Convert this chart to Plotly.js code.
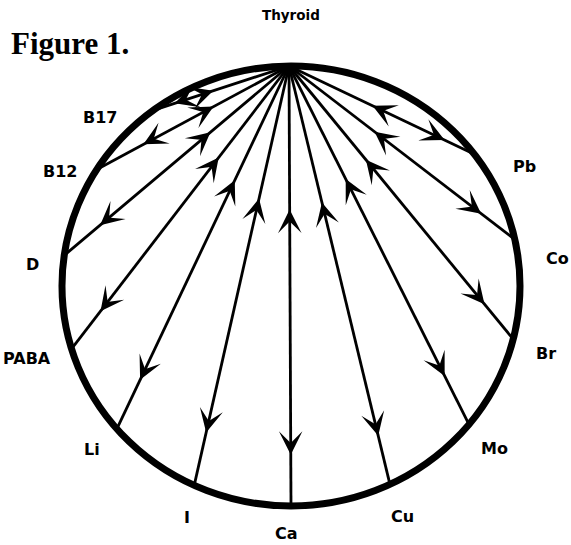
<!DOCTYPE html>
<html><head><meta charset="utf-8">
<script src="https://cdn.plot.ly/plotly-3.0.1.min.js"></script>
<style>html,body{margin:0;padding:0;background:#fff}#chart{width:571px;height:545px}</style>
</head><body><div id="chart"></div>
<script>
// ---- data ----
const sourceLabel = "Thyroid";
const sourceAngle = 90.5;                       // degrees on the circle
const elements = ["B17","B12","D","PABA","Li","I","Ca","Cu","Mo","Br","Co","Pb"];
const elementAngles = [127,148,172,196.6,220.5,245,270,295.6,321,346,12.2,36.8];
const upArrowAt   = [0.60,0.42,0.37,0.34,0.33,0.33,0.34,0.34,0.33,0.36,0.40,0.48]; // fraction from thyroid
const downArrowAt = [0.80,0.73,0.82,0.85,0.85,0.86,0.87,0.87,0.85,0.855,0.83,0.81];

// ---- label placement (layout) ----
const labelAngles = [137.5,152.8,175,196,220.6,246.7,269,295,320.4,344.5,6.2,27.9];
const labelRadius = [1.131,1.134,1.131,1.2,1.145,1.148,1.127,1.154,1.156,1.155,1.169,1.156];
const sourceLabelRadius = 1.232;

const rad = d => d*Math.PI/180;
const PX = 229, PY = 220; // pixels per unit (for arrow tail length)
const T = [Math.cos(rad(sourceAngle)), Math.sin(rad(sourceAngle))];

const lx = [], ly = [];
const annotations = [];
elements.forEach((name, i) => {
  const E = [Math.cos(rad(elementAngles[i])), Math.sin(rad(elementAngles[i]))];
  lx.push(T[0], E[0], null); ly.push(T[1], E[1], null);
  const L = Math.hypot((E[0]-T[0])*PX, (E[1]-T[1])*PY);
  const d = 12 / L;
  const at = t => [T[0] + (E[0]-T[0])*t, T[1] + (E[1]-T[1])*t];
  const uh = at(upArrowAt[i]-0.5*d), ut = at(upArrowAt[i]+0.5*d);
  const dh = at(downArrowAt[i]+0.5*d), dt = at(downArrowAt[i]-0.5*d);
  [[uh,ut],[dh,dt]].forEach(([h,tl]) => annotations.push({
    x: h[0], y: h[1], ax: tl[0], ay: tl[1], xref:'x', yref:'y', axref:'x', ayref:'y',
    text:'', showarrow:true, arrowhead:3, arrowsize:1.4, arrowwidth:2.8, arrowcolor:'#000', standoff:0
  }));
  annotations.push({
    x: labelRadius[i]*Math.cos(rad(labelAngles[i])), y: labelRadius[i]*Math.sin(rad(labelAngles[i])),
    xref:'x', yref:'y', text: name, showarrow:false, xanchor:'center', yanchor:'middle',
    font:{family:'DejaVu Sans, Arial, sans-serif', size:16, color:'#000', weight:700}
  });
});
annotations.push({
  x: sourceLabelRadius*Math.cos(rad(90)), y: sourceLabelRadius*Math.sin(rad(90)),
  xref:'x', yref:'y', text: sourceLabel, showarrow:false, xanchor:'center', yanchor:'middle',
  font:{family:'DejaVu Sans, Arial, sans-serif', size:13.5, color:'#000', weight:700}
});
annotations.push({
  x: 0.016, y: 1 - 43/545, xref:'paper', yref:'paper', text:'Figure 1.', showarrow:false,
  xanchor:'left', yanchor:'middle',
  font:{family:'Liberation Serif, serif', size:31, color:'#000', weight:700}
});

const data = [{
  type:'scatter', mode:'lines', x: lx, y: ly,
  line:{color:'#000', width:2.8}, hoverinfo:'skip', showlegend:false
}];

const layout = {
  width:571, height:545, margin:{l:0,r:0,t:0,b:0},
  paper_bgcolor:'#fff', plot_bgcolor:'#fff', showlegend:false,
  xaxis:{range:[-1.2707,1.2227], visible:false, fixedrange:true},
  yaxis:{range:[-1.1773,1.3], visible:false, fixedrange:true},
  shapes:[{type:'circle', xref:'x', yref:'y', x0:-1, x1:1, y0:-1, y1:1, line:{color:'#000', width:7}, layer:'above'}],
  annotations
};
Plotly.newPlot('chart', data, layout, {staticPlot:true, displayModeBar:false});
</script>
</body></html>
